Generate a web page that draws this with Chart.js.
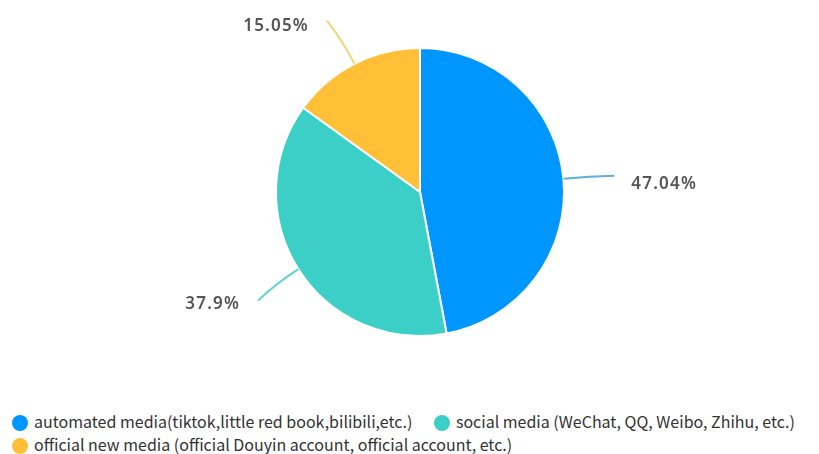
<!DOCTYPE html>
<html lang="en">
<head>
<meta charset="utf-8">
<style>
  html, body { margin: 0; padding: 0; background: #fff; }
  #wrap { position: relative; width: 819px; height: 454px; }
  #chart { position: absolute; left: 0; top: 0; }
  #legend { position: absolute; left: 12px; top: 410px; width: 807px;
            font-family: "Noto Sans CJK SC", "Noto Sans", sans-serif; font-size: 16px; color: #333; line-height: 23px; }
  #legend span.item { white-space: nowrap; margin-right: 4px; }
  #legend span.first { margin-right: 18px; }
  #legend i { display: inline-block; width: 16px; height: 16px; border-radius: 50%; vertical-align: -3px; margin-right: 6px; }
</style>
</head>
<body>
<div id="wrap">
  <canvas id="chart" width="819" height="384"></canvas>
  <div id="legend"></div>
</div>
<script src="https://cdn.jsdelivr.net/npm/chart.js"></script>
<script>
const categories = [
  'automated media(tiktok,little red book,bilibili,etc.)',
  'social media (WeChat, QQ, Weibo, Zhihu, etc.)',
  'official new media (official Douyin account, official account, etc.)'
];
const shares = [47.04, 37.9, 15.05];
const pctLabels = ['47.04%', '37.9%', '15.05%'];
const colors = ['#0096FF', '#3CCFC8', '#FFC038'];
const lineColors = ['#5FB0DA', '#5DD6CE', '#F2D47A'];

// leader lines + labels
const labelPlugin = {
  id: 'leaders',
  afterDatasetsDraw(chart) {
    const ctx = chart.ctx;
    chart.getDatasetMeta(0).data.forEach((arc, i) => {
      const mid = (arc.startAngle + arc.endAngle) / 2;
      const r = arc.outerRadius;
      const cx = arc.x, cy = arc.y;
      const sx = cx + Math.cos(mid) * r, sy = cy + Math.sin(mid) * r;
      const qx = cx + Math.cos(mid) * (r + 26), qy = cy + Math.sin(mid) * (r + 26);
      const a2 = mid + (Math.cos(mid) > 0 ? 0.01 : -0.025);
      const ex = cx + Math.cos(a2) * (r + 51), ey = cy + Math.sin(a2) * (r + 51);
      ctx.save();
      ctx.strokeStyle = lineColors[i];
      ctx.lineWidth = 2;
      ctx.beginPath();
      ctx.moveTo(sx, sy);
      ctx.quadraticCurveTo(qx, qy, ex, ey);
      ctx.stroke();
      const right = Math.cos(mid) > 0;
      ctx.font = '600 17px "Noto Sans", sans-serif';
      ctx.letterSpacing = '1.2px';
      ctx.fillStyle = '#555';
      ctx.textBaseline = 'middle';
      ctx.textAlign = right ? 'left' : 'right';
      let ty = ey + (Math.sin(mid) > 0 ? 4 : 5);
      if (right) ty = ey + 8;
      ctx.fillText(pctLabels[i], right ? ex + 17 : ex - 18, ty);
      ctx.restore();
    });
  }
};

const chart = new Chart(document.getElementById('chart'), {
  type: 'pie',
  data: {
    labels: categories,
    datasets: [{
      data: shares,
      backgroundColor: colors,
      borderColor: '#fff',
      borderWidth: 2,
      radius: 144
    }]
  },
  options: {
    responsive: false,
    animation: false,
    layout: { padding: { left: 21 } },
    plugins: { legend: { display: false }, tooltip: { enabled: false } }
  },
  plugins: [labelPlugin]
});

const legend = document.getElementById('legend');
categories.forEach((c, i) => {
  const s = document.createElement('span');
  s.className = i === 0 ? 'item first' : 'item';
  s.innerHTML = '<i style="background:' + colors[i] + '"></i>' + c;
  legend.appendChild(s);
  legend.appendChild(document.createTextNode(' '));
});
</script>
</body>
</html>
